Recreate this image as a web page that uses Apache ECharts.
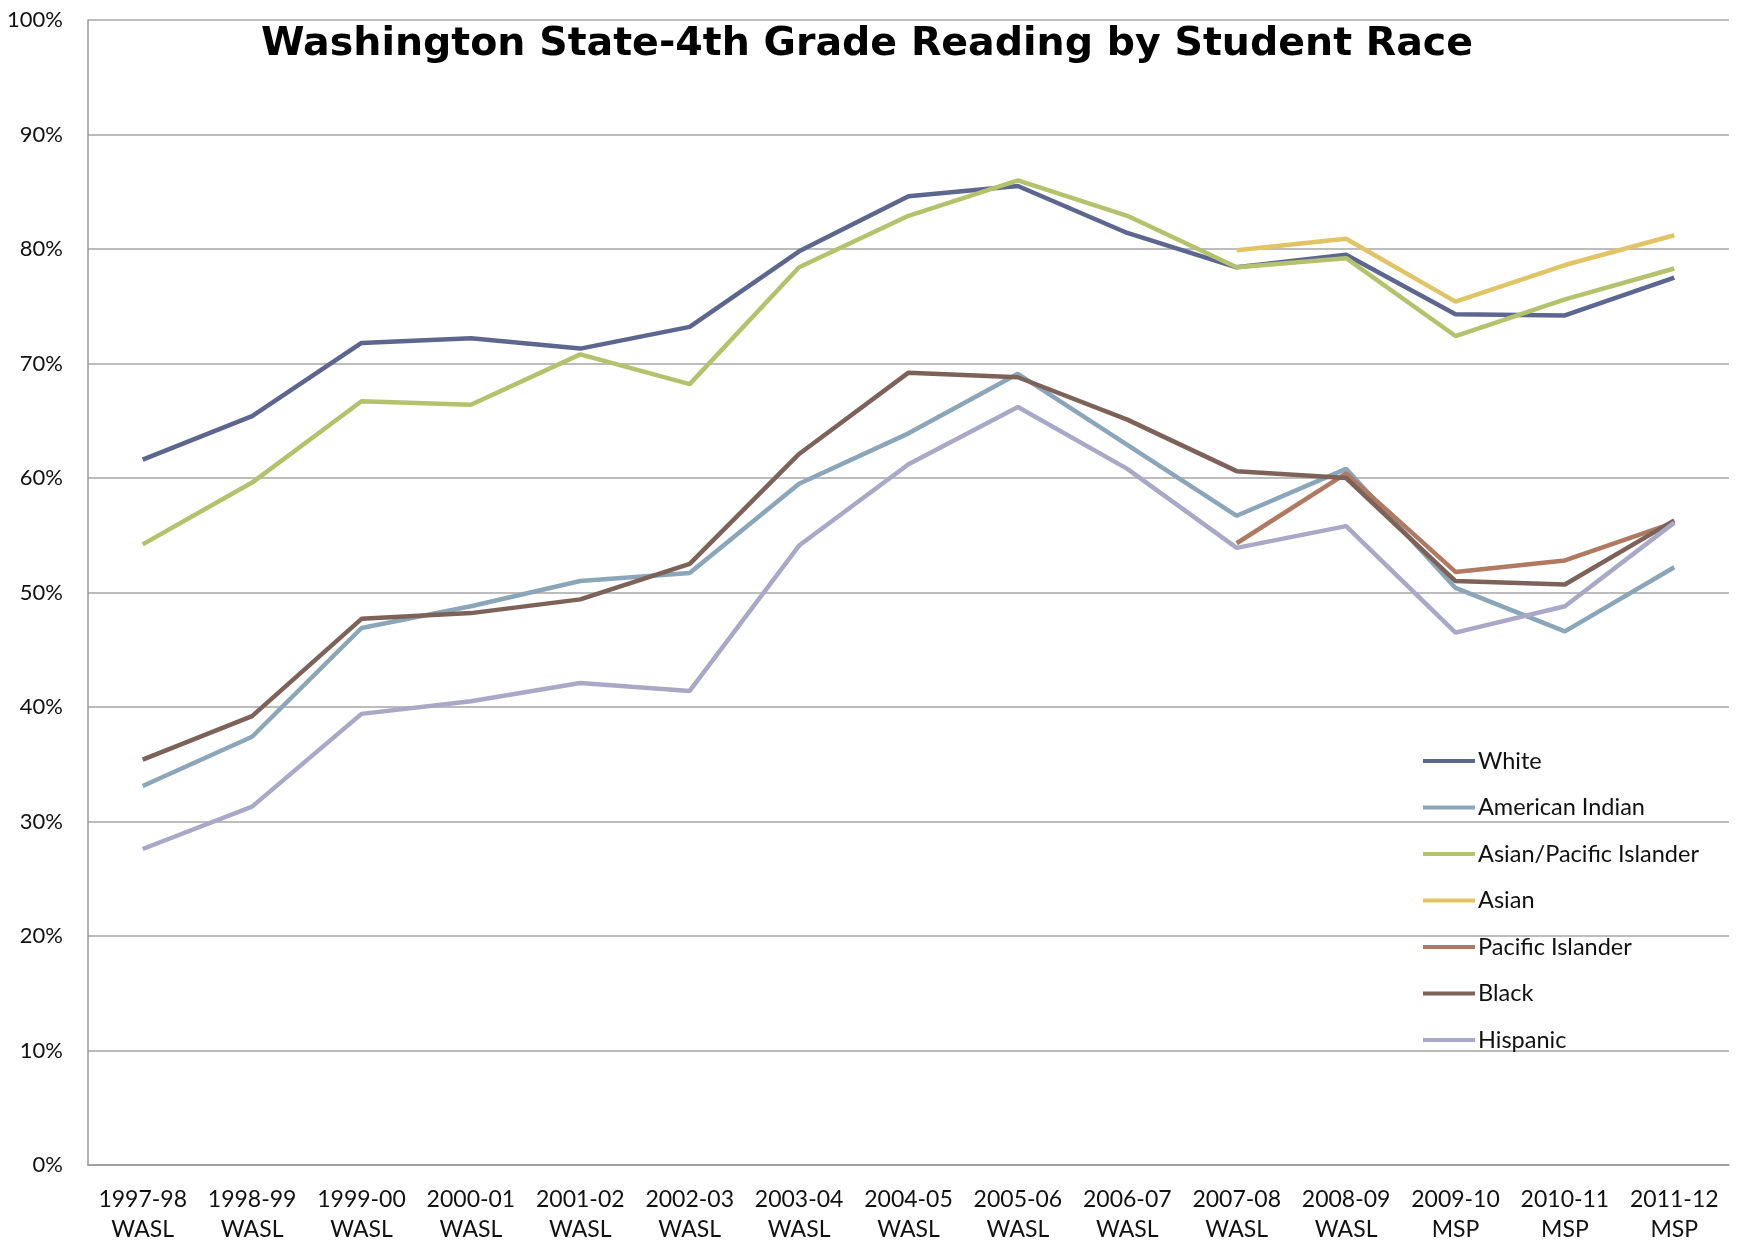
<!DOCTYPE html>
<html>
<head>
<meta charset="utf-8" />
<script src="https://cdn.jsdelivr.net/npm/echarts@6/dist/echarts.min.js"></script>
<title>wa_reading</title>
<style>
  html, body { margin: 0; padding: 0; background: #fff; }
</style>
</head>
<body>
<div id="main" style="width:1740px; height:1245px;"></div>
<script type="text/javascript">
    // school years and test names
    let years = ['1997-98', '1998-99', '1999-00', '2000-01', '2001-02', '2002-03', '2003-04', '2004-05',
        '2005-06', '2006-07', '2007-08', '2008-09', '2009-10', '2010-11', '2011-12'];
    let tests = ['WASL', 'WASL', 'WASL', 'WASL', 'WASL', 'WASL', 'WASL', 'WASL',
        'WASL', 'WASL', 'WASL', 'WASL', 'MSP', 'MSP', 'MSP'];

    // percent meeting standard
    let white = [61.6, 65.4, 71.8, 72.2, 71.3, 73.2, 79.8, 84.6, 85.5, 81.4, 78.4, 79.5, 74.3, 74.2, 77.5];
    let amIndian = [33.1, 37.4, 46.9, 48.8, 51.0, 51.7, 59.5, 63.9, 69.1, 62.9, 56.7, 60.8, 50.4, 46.6, 52.2];
    let asianPI = [54.2, 59.6, 66.7, 66.4, 70.8, 68.2, 78.4, 82.9, 86.0, 82.9, 78.4, 79.2, 72.4, 75.6, 78.3];
    let asian = [null, null, null, null, null, null, null, null, null, null, 79.9, 80.9, 75.4, 78.6, 81.2];
    let pacIsl = [null, null, null, null, null, null, null, null, null, null, 54.3, 60.4, 51.8, 52.8, 56.1];
    let black = [35.4, 39.2, 47.7, 48.2, 49.4, 52.5, 62.1, 69.2, 68.8, 65.1, 60.6, 60.0, 51.0, 50.7, 56.3];
    let hispanic = [27.6, 31.3, 39.4, 40.5, 42.1, 41.4, 54.1, 61.2, 66.2, 60.8, 53.9, 55.8, 46.5, 48.8, 56.1];

    let names = ['White', 'American Indian', 'Asian/Pacific Islander', 'Asian', 'Pacific Islander', 'Black', 'Hispanic'];
    let values = [white, amIndian, asianPI, asian, pacIsl, black, hispanic];
    let colors = ['#5d668f', '#8aa6b8', '#b3c26b', '#e1c466', '#b07a62', '#7d625a', '#a9a8c6'];

    let font = 'Lato';
    let myChart = echarts.init(document.getElementById('main'));

    let series = names.map(function (n, i) {
        return {
            name: n,
            type: 'line',
            data: values[i],
            symbol: 'none',
            connectNulls: false,
            lineStyle: { width: 4.5, color: colors[i] },
            itemStyle: { color: colors[i] }
        };
    });

    option = {
        animation: false,
        backgroundColor: '#fff',
        title: {
            text: 'Washington State-4th Grade Reading by Student Race',
            left: 862,
            top: 20,
            textAlign: 'center',
            textStyle: {
                fontFamily: 'DejaVu Sans',
                fontWeight: 'bold',
                fontSize: 39.5,
                color: '#000'
            }
        },
        legend: {
            orient: 'vertical',
            left: 1418,
            top: 744,
            icon: 'rect',
            itemWidth: 52,
            itemHeight: 4,
            itemGap: 22.5,
            textStyle: {
                fontFamily: font,
                fontSize: 23.5,
                color: '#111',
                padding: [0, 0, 0, -2]
            },
            data: names
        },
        grid: {
            left: 88,
            right: 11,
            top: 20,
            bottom: 74,
            containLabel: false
        },
        xAxis: {
            type: 'category',
            data: years.map(function (y, i) { return y + '\n' + tests[i]; }),
            boundaryGap: true,
            axisLine: { lineStyle: { color: '#999', width: 1.5 } },
            axisTick: { show: false },
            axisLabel: {
                interval: 0,
                margin: 20,
                fontFamily: font,
                fontSize: 23,
                lineHeight: 30,
                color: '#111'
            }
        },
        yAxis: {
            type: 'value',
            min: 0,
            max: 100,
            interval: 10,
            axisLine: { show: true, lineStyle: { color: '#999', width: 1.5 } },
            axisTick: { show: false },
            splitLine: { lineStyle: { color: '#a6a6a6', width: 1.5 } },
            axisLabel: {
                margin: 25,
                fontFamily: font,
                fontSize: 22,
                color: '#111',
                formatter: '{value}%'
            }
        },
        series: series
    };
    myChart.setOption(option);
</script>
</body>
</html>
